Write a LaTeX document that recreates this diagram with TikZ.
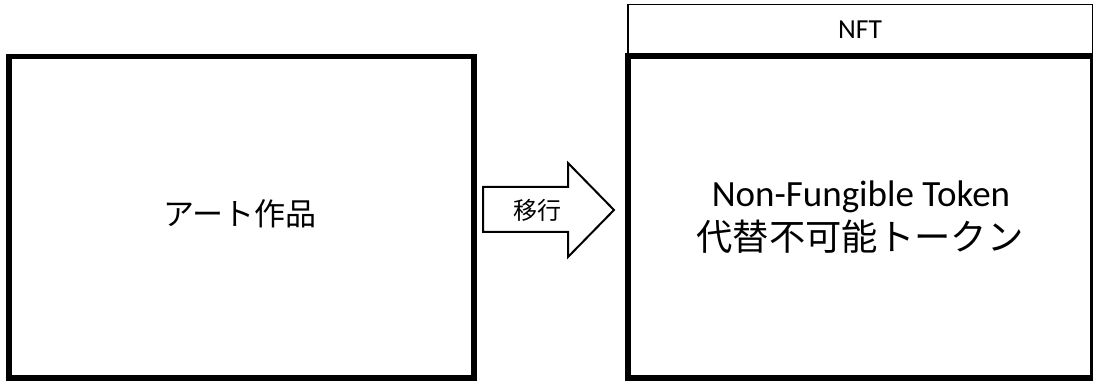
\documentclass[tikz,border=0pt]{standalone}
\usepackage{fontspec}
\setmainfont{Carlito}
\newfontfamily\jp{Noto Sans CJK JP}
\begin{document}
\begin{tikzpicture}[x=1pt,y=-1pt,
  thickbox/.style={draw=black,line width=5.5pt},
  thinbox/.style={draw=black,line width=1.6pt},
  arrowshape/.style={draw=black,line width=2pt,line join=miter,fill=white}]
\useasboundingbox (0,0) rectangle (1093,382);
\fill[white] (0,0) rectangle (1093,382);
% left box
\draw[thickbox] (9,56.5) rectangle (474,378);
\node (art) at (240,214) {\jp\fontsize{31}{37}\selectfont アート作品};
% NFT header
\draw[thinbox] (628,4.5) rectangle (1092.3,56);
\node[anchor=base] (nft) at (860,38.5) {\fontsize{27.5}{33}\selectfont NFT};
% right main box
\draw[thickbox] (628,56) rectangle (1092.8,378);
\node[anchor=base] (nfteng) at (861,207) {\fontsize{37}{44}\selectfont Non-Fungible Token};
\node (nftjp) at (860,237) {\jp\fontsize{36.3}{43}\selectfont 代替不可能トークン};
% arrow
\draw[arrowshape] (483,187) -- (568,187) -- (568,163) -- (614,210) -- (568,257) -- (568,232) -- (483,232) -- cycle;
\node (move) at (537,210) {\jp\fontsize{24}{29}\selectfont 移行};
\end{tikzpicture}
\end{document}
